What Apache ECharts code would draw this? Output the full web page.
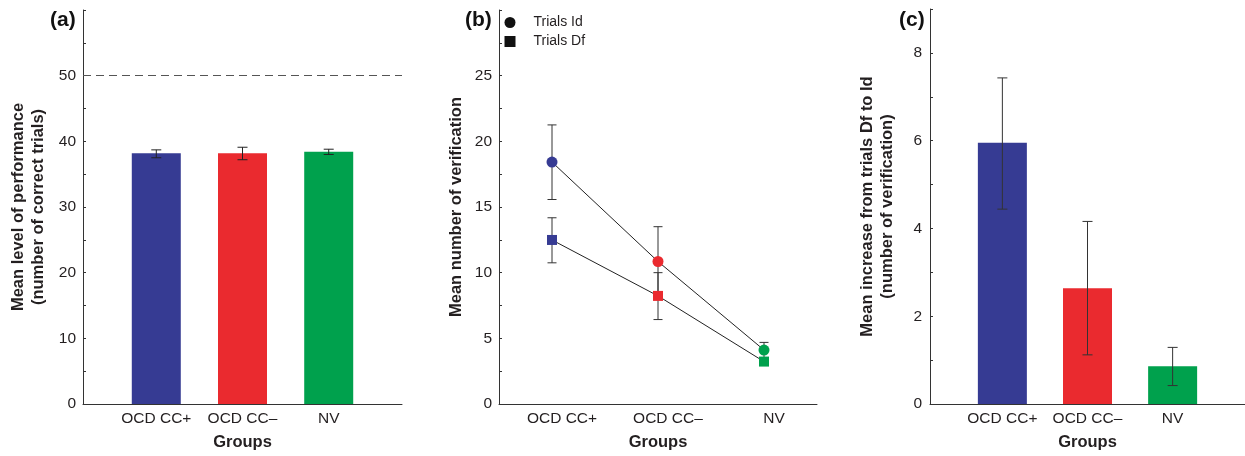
<!DOCTYPE html>
<html>
<head>
<meta charset="utf-8">
<script src="https://cdn.jsdelivr.net/npm/echarts@6/dist/echarts.min.js"></script>
<style>
html,body{margin:0;padding:0;background:#fff;}
#chart{width:1245px;height:456px;}
</style>
</head>
<body>
<div id="chart"></div>
<script>
// ---- data ----
const groups = ['OCD CC+', 'OCD CC\u2013', 'NV'];
const perfMean = [38.2, 38.2, 38.4];
const perfLow = [37.5, 37.2, 38.0];
const perfHigh = [38.7, 39.1, 38.8];
const chanceLevel = 50;
const idMean = [18.42, 10.85, 4.11];
const idLow = [15.57, 8.2, 3.53];
const idHigh = [21.25, 13.5, 4.69];
const dfMean = [12.49, 8.23, 3.23];
const dfLow = [10.75, 6.43, 2.95];
const dfHigh = [14.18, 10.0, 3.5];
const incMean = [5.95, 2.64, 0.86];
const incLow = [4.44, 1.12, 0.42];
const incHigh = [7.43, 4.16, 1.29];
const seriesNames = ['Trials Id', 'Trials Df'];

// ---- styles ----
const groupColors = ['#363b93', '#ea2a2f', '#00a14d'];
const FONT = 'Liberation Sans, Arial, Helvetica, sans-serif';
const TXT = '#231f20';

function errRender(capHalf, color) {
  return function (params, api) {
    const x = api.value(0);
    const lo = api.coord([x, api.value(1)]);
    const hi = api.coord([x, api.value(2)]);
    const st = { stroke: color, lineWidth: 1 };
    return {
      type: 'group',
      children: [
        { type: 'line', shape: { x1: lo[0], y1: lo[1], x2: hi[0], y2: hi[1] }, style: st },
        { type: 'line', shape: { x1: lo[0] - capHalf, y1: lo[1], x2: lo[0] + capHalf, y2: lo[1] }, style: st },
        { type: 'line', shape: { x1: hi[0] - capHalf, y1: hi[1], x2: hi[0] + capHalf, y2: hi[1] }, style: st }
      ]
    };
  };
}

function errData(lo, hi, useNames) {
  return lo.map((l, i) => [useNames ? groups[i] : i, l, hi[i]]);
}
function barData(vals) {
  return vals.map((v, i) => ({ value: [i, v], itemStyle: { color: groupColors[i] } }));
}

const axisLine = { show: true, onZero: false, lineStyle: { color: '#333', width: 1 } };
const labelStyle = { color: TXT, fontFamily: FONT, fontSize: 15.5 };
const nameStyle = { color: TXT, fontFamily: FONT, fontSize: 16.5, fontWeight: 'bold', lineHeight: 20 };
const groupsName = { color: TXT, fontFamily: FONT, fontSize: 16.5, fontWeight: 'bold' };

function valueXAxis(gridIndex) {
  return {
    type: 'value', gridIndex: gridIndex, min: -0.85, max: 2.85,
    axisLine: axisLine, axisTick: { show: false }, splitLine: { show: false },
    axisLabel: Object.assign({ margin: 7, customValues: [0, 1, 2], formatter: v => groups[Math.round(v)] }, labelStyle),
    name: 'Groups', nameLocation: 'middle', nameGap: 30,
    nameTextStyle: groupsName
  };
}
function yTick() {
  return { show: true, inside: true, length: 3, lineStyle: { color: '#333' } };
}

const option = {
  animation: false,
  backgroundColor: '#fff',
  grid: [
    { left: 83, top: 10, width: 319, height: 397 },
    { left: 499, top: 10, width: 318, height: 396 },
    { left: 930, top: 9, width: 318, height: 398 }
  ],
  legend: {
    orient: 'vertical', left: 504.5, top: 15.5, itemWidth: 11, itemHeight: 11, itemGap: 5, padding: 0,
    selectedMode: false,
    textStyle: { color: TXT, fontFamily: FONT, fontSize: 14, padding: [0, 0, 0, 13] },
    data: [
      { name: seriesNames[0], icon: 'circle', itemStyle: { color: '#111' } },
      { name: seriesNames[1], icon: 'rect', itemStyle: { color: '#111' } }
    ]
  },
  xAxis: [
    valueXAxis(0),
    {
      type: 'category', gridIndex: 1, data: groups, boundaryGap: true,
      axisLine: axisLine, axisTick: { show: false },
      axisLabel: Object.assign({ margin: 7, padding: [0, 0, 0, 20] }, labelStyle),
      name: 'Groups', nameLocation: 'middle', nameGap: 30,
      nameTextStyle: groupsName
    },
    valueXAxis(2)
  ],
  yAxis: [
    {
      type: 'value', gridIndex: 0, min: 0, max: 60, interval: 5,
      axisLine: axisLine, axisTick: yTick(), splitLine: { show: false },
      axisLabel: Object.assign({ margin: 7, formatter: v => (v % 10 === 0 && v <= 50 ? String(v) : '') }, labelStyle),
      name: 'Mean level of performance\n(number of correct trials)', nameLocation: 'middle', nameRotate: 90, nameGap: 35,
      nameTextStyle: nameStyle
    },
    {
      type: 'value', gridIndex: 1, min: 0, max: 30, interval: 2.5,
      axisLine: axisLine, axisTick: yTick(), splitLine: { show: false },
      axisLabel: Object.assign({ margin: 7, formatter: v => (v % 5 === 0 && v <= 25 ? String(v) : '') }, labelStyle),
      name: 'Mean number of verification', nameLocation: 'middle', nameRotate: 90, nameGap: 33,
      nameTextStyle: nameStyle
    },
    {
      type: 'value', gridIndex: 2, min: 0, max: 9, interval: 1,
      axisLine: axisLine, axisTick: yTick(), splitLine: { show: false },
      axisLabel: Object.assign({ margin: 8, formatter: v => (v % 2 === 0 && v <= 8 ? String(v) : '') }, labelStyle),
      name: 'Mean increase from trials Df to Id\n(number of verification)', nameLocation: 'middle', nameRotate: 90, nameGap: 33,
      nameTextStyle: nameStyle
    }
  ],
  graphic: [
    { type: 'text', left: 50, top: 10, style: { text: '(a)', font: 'bold 21px ' + FONT, fill: '#111' } },
    { type: 'text', left: 465, top: 10, style: { text: '(b)', font: 'bold 21px ' + FONT, fill: '#111' } },
    { type: 'text', left: 899, top: 10, style: { text: '(c)', font: 'bold 21px ' + FONT, fill: '#111' } }
  ],
  series: [
    {
      type: 'bar', xAxisIndex: 0, yAxisIndex: 0, barWidth: 49, data: barData(perfMean),
      markLine: {
        silent: true, symbol: 'none', label: { show: false },
        lineStyle: { color: '#555', type: [8, 5], width: 1 },
        data: [{ yAxis: chanceLevel }]
      }
    },
    {
      type: 'custom', xAxisIndex: 0, yAxisIndex: 0, renderItem: errRender(5, '#222'),
      encode: { x: 0, y: [1, 2] }, data: errData(perfLow, perfHigh, false), z: 5
    },
    {
      type: 'custom', xAxisIndex: 1, yAxisIndex: 1, renderItem: errRender(4.5, '#333'),
      encode: { x: 0, y: [1, 2] }, data: errData(idLow, idHigh, true), z: 1
    },
    {
      type: 'custom', xAxisIndex: 1, yAxisIndex: 1, renderItem: errRender(4.5, '#333'),
      encode: { x: 0, y: [1, 2] }, data: errData(dfLow, dfHigh, true), z: 1
    },
    {
      name: seriesNames[0], type: 'line', xAxisIndex: 1, yAxisIndex: 1, symbol: 'circle', symbolSize: 11,
      lineStyle: { color: '#222', width: 1 }, z: 3,
      data: idMean.map((v, i) => ({ value: v, itemStyle: { color: groupColors[i] } }))
    },
    {
      name: seriesNames[1], type: 'line', xAxisIndex: 1, yAxisIndex: 1, symbol: 'rect', symbolSize: 10,
      lineStyle: { color: '#222', width: 1 }, z: 3,
      data: dfMean.map((v, i) => ({ value: v, itemStyle: { color: groupColors[i] } }))
    },
    {
      type: 'bar', xAxisIndex: 2, yAxisIndex: 2, barWidth: 49, data: barData(incMean)
    },
    {
      type: 'custom', xAxisIndex: 2, yAxisIndex: 2, renderItem: errRender(5, '#333'),
      encode: { x: 0, y: [1, 2] }, data: errData(incLow, incHigh, false), z: 5
    }
  ]
};

const chart = echarts.init(document.getElementById('chart'), null, { renderer: 'canvas' });
chart.setOption(option);
</script>
</body>
</html>
